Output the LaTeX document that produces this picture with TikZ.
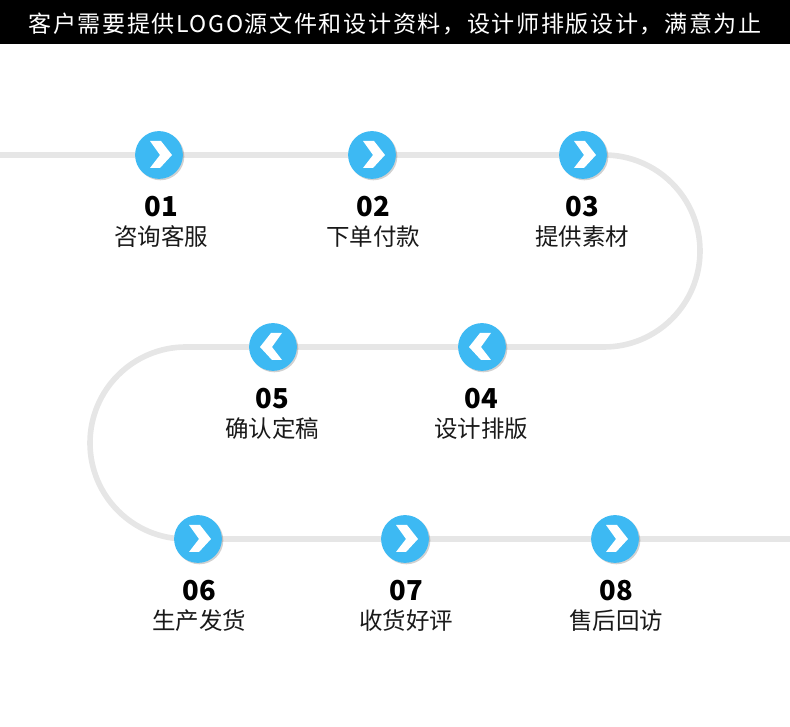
\documentclass[tikz,border=0pt]{standalone}
\usepackage{fontspec}
\usepackage{xcolor}
\usetikzlibrary{
  backgrounds,
  shadows
}
\newfontfamily\cjk{Noto Sans CJK SC}
\newfontfamily\cjkhead[LetterSpace=7]{Noto Sans CJK SC}
\definecolor{track}{HTML}{E6E6E6}
\definecolor{stepblue}{HTML}{3DB9F3}
\tikzset{
  stepdot/.style={circle, fill=stepblue, minimum size=34pt, inner sep=0pt,
    drop shadow={shadow xshift=1pt, shadow yshift=-1pt, opacity=0.18, fill=black}},
  numlab/.style={font=\cjk\fontsize{19.5}{20}\selectfont\bfseries, color=black},
  steplab/.style={font=\cjk\fontsize{16.7}{18}\selectfont, color=black!90}
}

\begin{document}
\begin{tikzpicture}[x=0.025cm, y=0.025cm]
  \useasboundingbox (0,0) rectangle (790,727);
  \fill[black] (0,683) rectangle (790,727);
  \node[text=white, font=\cjkhead\fontsize{16.4}{18}\selectfont] (title) at (395,703)
    {客户需要提供LOGO源文件和设计资料，设计师排版设计，满意为止};

  \foreach \n/\x/\y/\lx/\lab/\dir in {1/159/572/161/咨询客服/1, 2/372/572/373/下单付款/1, 3/583/572/582/提供素材/1,
    4/482/380/481/设计排版/-1, 5/273/380/272/确认定稿/-1,
    6/198/188/199/生产发货/1, 7/405/188/406/收货好评/1, 8/615/188/616/售后回访/1} {
    \node[stepdot] (s\n) at (\x,\y) {};
    \fill[white, shift={(s\n.center)}, xscale=\dir]
      (-9,14) -- (2,14) -- (13,0) -- (1,-13) -- (-9,-13) -- (1,0) -- cycle;
    \node[numlab] (num\n) at (\lx,\y-52) {0\n};
    \node[steplab] (lab\n) at (\lx,\y-82) {\lab};
  }

  \coordinate (trackin) at (0,572);
  \coordinate (trackout) at (790,188);
  \begin{scope}[on background layer]
    \draw[track, line width=4pt] (trackin) -- (s1.center) -- (s2.center) -- (s3.center)
      -- ++(21,0) arc[start angle=90, end angle=-90, radius=96] -- (s4.center) -- (s5.center)
      -- ++(-87,0) arc[start angle=90, end angle=270, radius=96] -- (s6.center)
      -- (s7.center) -- (s8.center) -- (trackout);
  \end{scope}
\end{tikzpicture}
\end{document}
